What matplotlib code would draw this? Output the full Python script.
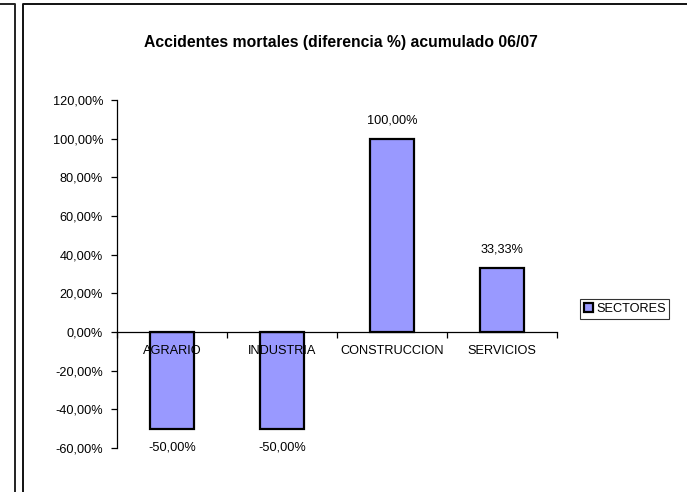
import matplotlib.pyplot as plt
from matplotlib.lines import Line2D
from matplotlib.patches import Patch

plt.rcParams['font.family'] = ['Liberation Sans', 'DejaVu Sans']

# data
sectores = ["AGRARIO", "INDUSTRIA", "CONSTRUCCION", "SERVICIOS"]
diferencia = [-50.0, -50.0, 100.0, 33.33]
yticks = [-60, -40, -20, 0, 20, 40, 60, 80, 100, 120]

W, H = 687, 492
fig = plt.figure(figsize=(W / 100, H / 100), dpi=100)

# chart frame lines (pixel coords -> figure fraction)
def fx(px):
    return px / W

def fy(py):
    return 1 - py / H

fig.add_artist(Line2D([fx(0), fx(15), fx(15)], [fy(4), fy(4), fy(H)], color="#222222", lw=1.4))
fig.add_artist(Line2D([fx(22.5), fx(22.5), fx(W)], [fy(H), fy(4), fy(4)], color="#111111", lw=1.4))

ax = fig.add_axes([fx(117), fy(448), fx(557) - fx(117), fy(100) - fy(448)])

x = list(range(len(sectores)))
bars = ax.bar(x, diferencia, width=0.4, color="#9999FF", edgecolor="black", linewidth=1.6, label="SECTORES")

ax.set_xlim(-0.5, len(sectores) - 0.5)
ax.set_ylim(-60, 120)

for s in ["top", "right"]:
    ax.spines[s].set_visible(False)
ax.spines["bottom"].set_position(("data", 0))
ax.spines["left"].set_linewidth(0.9)
ax.spines["bottom"].set_linewidth(0.9)

ax.set_yticks(yticks)
ax.set_yticklabels([f"{v:.2f}".replace(".", ",") + "%" for v in yticks], fontsize=9.2)
ax.tick_params(axis="y", direction="out", length=4, width=0.9, pad=6)

ax.set_xticks(x)
ax.set_xticklabels(sectores, fontsize=9.2)
ax.tick_params(axis="x", which="major", length=0, pad=9)
ax.set_xticks([i - 0.5 for i in range(len(sectores) + 1)], minor=True)
ax.tick_params(axis="x", which="minor", direction="out", length=4, width=0.9)

for xi, v in zip(x, diferencia):
    lbl = f"{v:.2f}".replace(".", ",") + "%"
    off = 12 if v >= 0 else -13
    ax.annotate(lbl, (xi, v), xytext=(0, off), textcoords="offset pixels",
                ha="center", va="bottom" if v >= 0 else "top", fontsize=9.2)

fig.text(fx(340.5), fy(42), "Accidentes mortales (diferencia %) acumulado 06/07",
         ha="center", va="center", fontsize=11.3, fontweight="bold")

handle = Patch(facecolor="#9999FF", edgecolor="black", linewidth=1.6)
leg = fig.legend([handle], ["SECTORES"], loc="center left", bbox_to_anchor=(fx(580), fy(309)),
                 fontsize=9.2, frameon=True, fancybox=False, handlelength=0.75, handleheight=0.75,
                 handletextpad=0.2, borderpad=0.3, borderaxespad=0)
leg.get_frame().set_edgecolor("black")
leg.get_frame().set_linewidth(0.8)

fig.savefig("out.png", dpi=100)
